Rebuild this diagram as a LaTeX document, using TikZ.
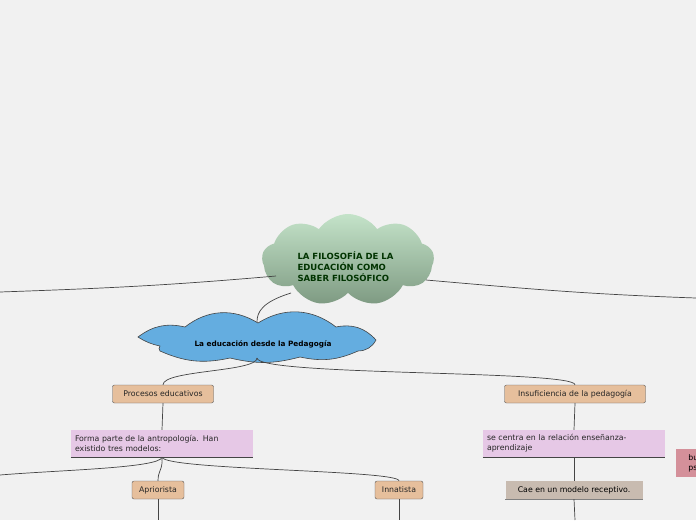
\documentclass[tikz,border=0pt]{standalone}
\usepackage{fontspec}
\setmainfont{DejaVu Sans}
\usetikzlibrary{shapes.symbols}
\definecolor{bg}{HTML}{F1F1F1}
\definecolor{peach}{HTML}{E6BF9C}
\definecolor{pink}{HTML}{E6C8E6}
\definecolor{rose}{HTML}{D4909A}
\definecolor{taupe}{HTML}{C8BBB0}
\definecolor{blue1}{HTML}{64ADE0}
\definecolor{gtop}{HTML}{C4E3C9}
\definecolor{gbot}{HTML}{7E9A82}
\definecolor{ln}{HTML}{444444}
\tikzset{
  x=1pt,y=-1pt,
  conn/.style={draw=ln,line width=0.7pt},
  pbox/.style={draw=ln!90,fill=peach,rounded corners=2pt,minimum height=18pt,inner xsep=4pt,font=\fontsize{7.8}{9}\selectfont,text=black!85},
  tbox/.style={fill=pink,minimum height=27pt,text width=#1,align=left,font=\fontsize{7.8}{10}\selectfont,text=black!85,inner xsep=4pt},
}
\begin{document}
\begin{tikzpicture}
\fill[bg] (0,0) rectangle (696,520);
\useasboundingbox (0,0) rectangle (696,520);
\node[cloud,cloud puffs=9,cloud puff arc=110,aspect=1.9,minimum width=172pt,minimum height=92pt,top color=gtop,bottom color=gbot,draw=none] (root) at (348,260) {};
\node[anchor=west,align=left,font=\bfseries\fontsize{8.5}{11}\selectfont,text=black!80!green] at (294,267) {LA FILOSOFÍA DE LA\\EDUCACIÓN COMO\\SABER FILOSÓFICO};
\draw[fill=blue1,draw=ln,line width=0.6pt] (138,337)
  to[bend left=25] (185,327) to[bend left=35] (258,323) to[bend left=35] (336,327)
  to[bend left=30] (376,340) to[bend left=30] (358,351) to[bend left=18] (300,357)
  to[bend left=14] (230,358) to[bend left=18] (160,351) to[bend left=40] (160,346)
  to[bend left=10] cycle;
\node[font=\bfseries\fontsize{7.3}{9}\selectfont] (ped) at (263,344) {La educación desde la Pedagogía};
\coordinate (pedtop) at (257,322); \coordinate (pedbot) at (257,358);
\node[pbox,minimum width=101pt] (proc) at (163,394) {Procesos educativos};
\node[pbox,minimum width=141pt] (insu) at (575,394) {Insuficiencia de la pedagogía};
\node[tbox=174pt] (forma) at (162,443.5) {Forma parte de la antropología. Han\\existido tres modelos:};
\draw[ln,line width=0.8pt] (forma.south west) -- (forma.south east);
\node[tbox=174pt] (centra) at (574,443.5) {se centra en la relación enseñanza-\\aprendizaje};
\draw[ln,line width=0.8pt] (centra.south west) -- (centra.south east);
\node[fill=rose,anchor=north west,minimum height=28pt,minimum width=40pt,align=left,font=\fontsize{7.8}{10}\selectfont,inner xsep=4pt] (bus) at (676,449) {bus\\psic};
\node[pbox,minimum width=52pt] (apri) at (158,490) {Apriorista};
\node[pbox,minimum width=48pt] (inna) at (399,490) {Innatista};
\node[fill=taupe,minimum width=137pt,minimum height=18pt,font=\fontsize{7.8}{9}\selectfont] (cae) at (574,490) {Cae en un modelo receptivo.};
\draw[gray,line width=1.2pt] (cae.south west) -- (cae.south east);
\coordinate (L1) at (0,292); \coordinate (R1) at (696,298);
\coordinate (L2) at (0,475);
\coordinate (A2) at (158,520); \coordinate (I2) at (399,520); \coordinate (C2) at (575,520);
\draw[conn] (276,276) to[out=185,in=2] (L1);
\draw[conn] (426,280) to[out=-5,in=178] (R1);
\draw[conn] (291,293) .. controls (262,302) and (257,312) .. (pedtop);
\draw[conn] (pedbot) .. controls (257,372) and (163,370) .. (proc.north);
\draw[conn] (pedbot) .. controls (257,376) and (575,370) .. (insu.north);
\draw[conn] (proc.south) -- (forma.north);
\draw[conn] (insu.south) -- (centra.north);
\draw[conn] (forma.south) .. controls (163,470) and (158,470) .. (apri.north);
\draw[conn] (forma.south) .. controls (165,470) and (399,470) .. (inna.north);
\draw[conn] (forma.south) .. controls (160,468) and (60,470) .. (L2);
\draw[conn] (centra.south) -- (cae.north);
\draw[conn] (apri.south) -- (A2);
\draw[conn] (inna.south) -- (I2);
\draw[conn] (cae.south) -- (C2);
\end{tikzpicture}
\end{document}
